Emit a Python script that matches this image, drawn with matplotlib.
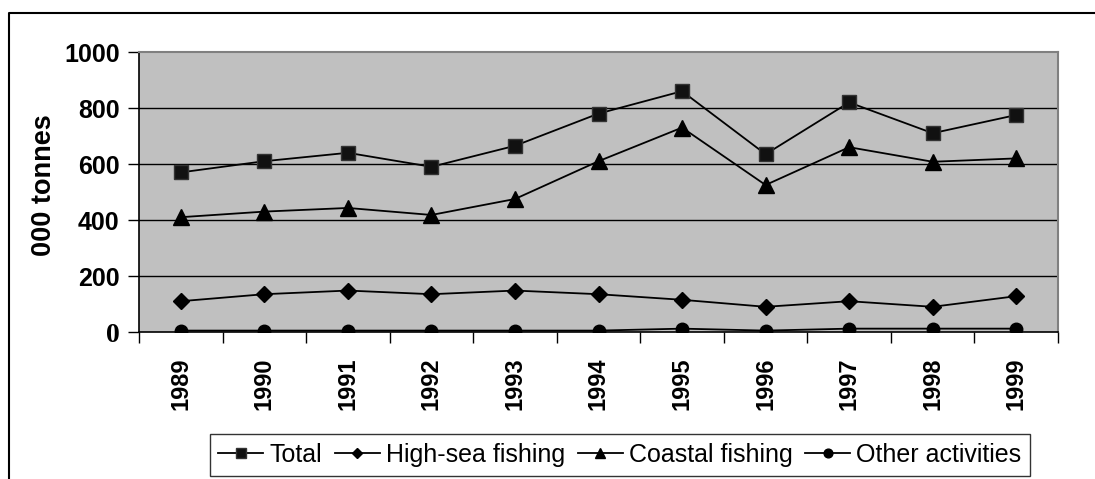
import matplotlib.pyplot as plt
from matplotlib.lines import Line2D

years = ["1989", "1990", "1991", "1992", "1993", "1994", "1995", "1996", "1997", "1998", "1999"]
total = [570, 610, 640, 590, 665, 780, 860, 635, 820, 710, 775]
high_sea = [110, 135, 148, 135, 148, 135, 115, 90, 110, 90, 128]
coastal = [410, 430, 443, 418, 475, 610, 730, 525, 660, 608, 620]
other = [5, 5, 5, 5, 5, 5, 12, 5, 12, 12, 12]

plt.rcParams['font.family'] = ['Liberation Sans', 'DejaVu Sans']

fig = plt.figure(figsize=(10.95, 4.79), dpi=100)
ax = fig.add_axes([139 / 1095, 1 - 332 / 479, 919 / 1095, 280 / 479])
ax.set_facecolor("#c0c0c0")

x = list(range(len(years)))
ax.plot(x, total, color="black", lw=1.3, marker="s", ms=10, mfc="#111111", mec="#333333", label="Total")
ax.plot(x, high_sea, color="black", lw=1.3, marker="D", ms=8, label="High-sea fishing")
ax.plot(x, coastal, color="black", lw=1.3, marker="^", ms=11, label="Coastal fishing")
ax.plot(x, other, color="black", lw=1.3, marker="o", ms=9, label="Other activities")

ax.set_xlim(-0.5, len(years) - 0.5)
ax.set_ylim(0, 1000)

# gridlines
for v in [200, 400, 600, 800]:
    ax.axhline(v, color="black", lw=1, zorder=0.5)

ax.set_yticks([0, 200, 400, 600, 800, 1000])
ax.set_yticklabels(["0", "200", "400", "600", "800", "1000"], fontsize=18, fontweight="bold")
ax.get_yticklabels()[0].set_family("Liberation Serif")
ax.get_yticklabels()[0].set_fontsize(20)
ax.tick_params(axis="y", direction="out", length=8, width=1, pad=6)

ax.set_xticks([i - 0.5 for i in range(len(years) + 1)])
ax.set_xticklabels([])
ax.set_xticks(x, minor=True)
ax.set_xticklabels(years, minor=True, rotation=90, fontsize=17, fontweight="bold")
ax.tick_params(axis="x", which="major", direction="out", length=8, width=1)
ax.tick_params(axis="x", which="minor", length=0, pad=18)

ax.set_ylabel("000 tonnes", fontsize=19.5, fontweight="bold")
ax.yaxis.set_label_coords(-0.089, 0.525)

for s in ["top", "right"]:
    ax.spines[s].set_color("#808080")
    ax.spines[s].set_linewidth(1.5)
for s in ["left", "bottom"]:
    ax.spines[s].set_color("black")
    ax.spines[s].set_linewidth(1.2)

leg = fig.legend(loc="center", bbox_to_anchor=(620 / 1095, 1 - 455 / 479), ncol=4,
                 fontsize=18, frameon=True, fancybox=False, handlelength=1.8,
                 handletextpad=0.25, columnspacing=0.5, borderpad=0.35,
                 markerscale=0.7)
leg.get_frame().set_edgecolor("black")
leg.get_frame().set_linewidth(1)

# outer chart border
fig.add_artist(Line2D([9 / 1095, 9 / 1095, 1.0], [0.0, 1 - 13 / 479, 1 - 13 / 479],
                      color="black", lw=1.5, transform=fig.transFigure))

fig.savefig("out.png", dpi=100)
